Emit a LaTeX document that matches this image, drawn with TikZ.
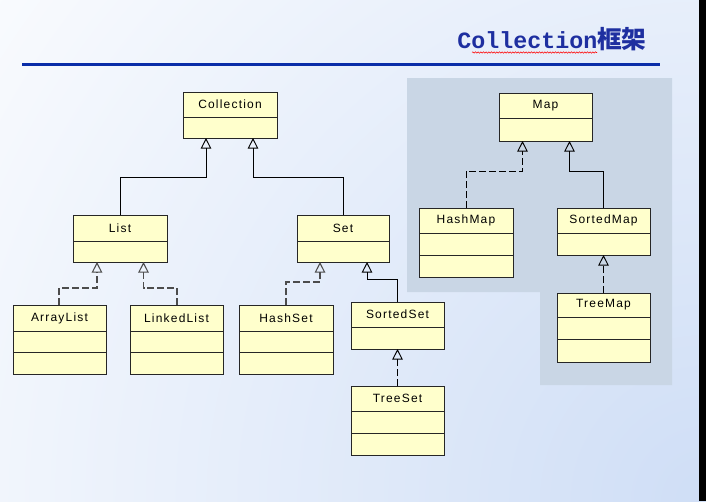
\documentclass[tikz,border=0pt]{standalone}
\usepackage{fontspec}
\setmainfont{Liberation Sans}
\newfontfamily\clsfont[LetterSpace=10]{Liberation Sans}
\newfontfamily\titlefont{Liberation Mono}
\newfontfamily\cjk{Noto Sans CJK SC}
\usetikzlibrary{arrows.meta,decorations.pathmorphing}
\definecolor{clsfill}{HTML}{FFFFCC}
\definecolor{mapbg}{HTML}{C9D6E5}
\definecolor{titleblue}{HTML}{1E2FA0}
\definecolor{rulebl}{HTML}{0A2DA8}
\definecolor{bgblue}{HTML}{CFDEF6}
\tikzset{
  clsbox/.style={draw=black!85, fill=clsfill, line width=0.7pt, inner sep=0pt, outer sep=0pt},
  clslabel/.style={font=\clsfont\fontsize{9}{10}\selectfont, inner sep=0pt},
  divline/.style={draw=black!85, line width=0.7pt},
  gen/.style={draw=black, line width=0.7pt, -{Triangle[open, length=8pt, width=8pt]}},
  real/.style={draw=black!70, line width=0.8pt, dash pattern=on 5pt off 2.5pt, -{Triangle[open, length=8pt, width=8pt]}},
}
% #1 name, #2 x1, #3 y1, #4 x2, #5 y2, #6 dividers, #7 label y, #8 label
\newcommand\umlcls[8]{%
  \node[clsbox, minimum width={(#4-#2)*0.75pt}, minimum height={(#5-#3)*0.75pt}, anchor=north west] (#1) at (#2,#3) {};
  \foreach \dd in {#6} {\draw[divline] (#2,\dd) -- (#4,\dd);}
  \node[clslabel] (#1-name) at ({(#2+#4)/2},#7) {#8};
}
\begin{document}
\begin{tikzpicture}[x=0.75pt,y=-0.75pt]
\useasboundingbox (0,0) rectangle (706,501);
% background
\begin{scope}
  \clip (0,0) rectangle (706,501);
  \fill[white] (0,0) rectangle (706,501);
  \shade[inner color=bgblue, outer color=white] (706,501) circle (1000);
\end{scope}
\fill[black] (699,0) rectangle (706,501);
% title
\node[anchor=base west, inner sep=0pt, text=titleblue] (title) at (457,48.5)
  {\fontsize{17.5}{20}\selectfont\titlefont\bfseries Collection\fontsize{18.5}{20}\selectfont\cjk\bfseries 框架};
\draw[red, line width=0.4pt, decorate, decoration={snake, amplitude=0.5pt, segment length=2pt}] (472,52.5) -- (597,52.5);
\draw[rulebl, line width=2.2pt] (22,64.5) -- (660,64.5);
% map background region
\fill[mapbg] (407,78) -- (672,78) -- (672,385) -- (540,385) -- (540,292) -- (407,292) -- cycle;

% classes
\umlcls{collection}{183}{92}{277}{138}{117}{104.5}{Collection}
\umlcls{list}{73}{215}{167}{262}{241}{228}{List}
\umlcls{set}{297}{215}{389}{262}{241}{228}{Set}
\umlcls{arraylist}{13}{305}{106}{374}{331,352}{318}{ArrayList}
\umlcls{linkedlist}{130}{305}{223}{374}{331,352}{318}{LinkedList}
\umlcls{hashset}{239}{305}{333}{374}{331,352}{318}{HashSet}
\umlcls{sortedset}{351}{302}{444}{349}{327}{314.5}{SortedSet}
\umlcls{treeset}{351}{386}{444}{455}{411,433}{398.5}{TreeSet}
\umlcls{map}{499}{93}{592}{141}{118}{105.5}{Map}
\umlcls{hashmap}{419}{208}{513}{277}{233,255}{220.5}{HashMap}
\umlcls{sortedmap}{557}{208}{650}{255}{233}{220.5}{SortedMap}
\umlcls{treemap}{557}{293}{650}{362}{317,339}{305}{TreeMap}

% connectors
\coordinate (c1a) at (120,177); \coordinate (c1b) at (206,177);
\draw[gen] (list.north -| c1a) -- (c1a) -- (c1b) -- (collection.south -| c1b);
\coordinate (c2a) at (343,177); \coordinate (c2b) at (253,177);
\draw[gen] (set.north -| c2a) -- (c2a) -- (c2b) -- (collection.south -| c2b);

\coordinate (a1) at (59,288); \coordinate (a2) at (97,288);
\draw[real] (arraylist.north -| a1) -- (a1) -- (a2) -- (list.south -| a2);
\coordinate (l1) at (177,288); \coordinate (l2) at (143.5,288);
\draw[real] (linkedlist.north -| l1) -- (l1) -- (l2) -- (list.south -| l2);

\coordinate (h1) at (286,282); \coordinate (h2) at (320,282);
\draw[real] (hashset.north -| h1) -- (h1) -- (h2) -- (set.south -| h2);
\coordinate (s1) at (397.5,279); \coordinate (s2) at (367,279);
\draw[gen] (sortedset.north -| s1) -- (s1) -- (s2) -- (set.south -| s2);
\draw[real, draw=black, line width=0.7pt] (treeset.north) -- (sortedset.south);

\coordinate (m1) at (466,171); \coordinate (m2) at (522.5,171);
\draw[real, draw=black, line width=0.7pt] (hashmap.north -| m1) -- (m1) -- (m2) -- (map.south -| m2);
\coordinate (n1) at (603.5,171); \coordinate (n2) at (569.5,171);
\draw[gen] (sortedmap.north -| n1) -- (n1) -- (n2) -- (map.south -| n2);
\draw[real, draw=black, line width=0.7pt] (treemap.north) -- (sortedmap.south);
\end{tikzpicture}
\end{document}
